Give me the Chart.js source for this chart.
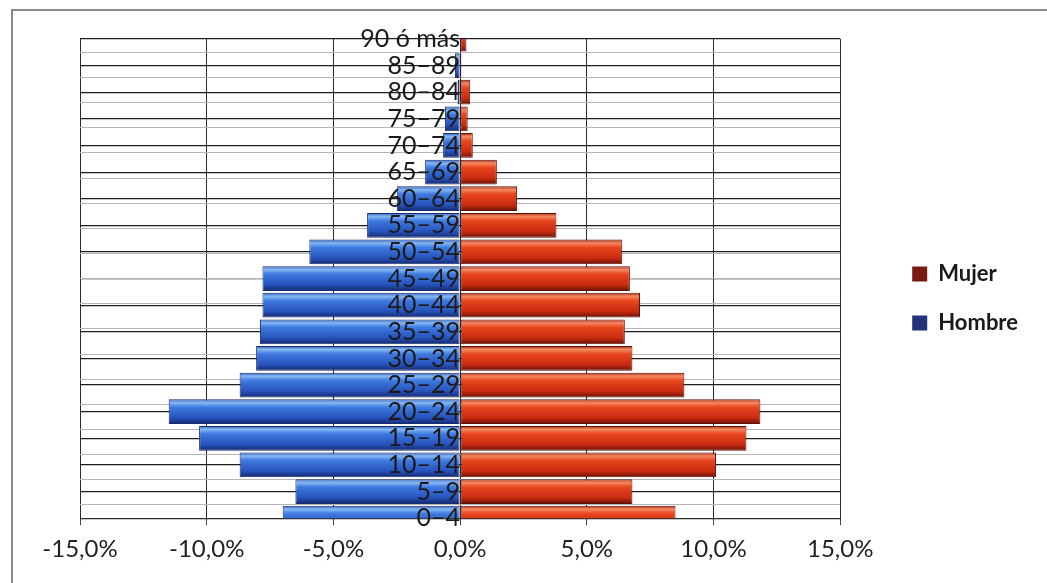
<!DOCTYPE html>
<html>
<head>
<meta charset="utf-8">
<script src="https://cdn.jsdelivr.net/npm/chart.js@4/dist/chart.umd.min.js"></script>
<style>
  html, body { margin: 0; padding: 0; background: #fff; }
  #wrap { width: 1047px; height: 583px; }
</style>
</head>
<body>
<div id="wrap"><canvas id="chart" width="1047" height="583"></canvas></div>
<script>
const ageGroups = ["0–4", "5–9", "10–14", "15–19", "20–24", "25–29", "30–34", "35–39", "40–44",
  "45–49", "50–54", "55–59", "60–64", "65–69", "70–74", "75–79", "80–84", "85–89", "90 ó más"]
const mujer = [8.5, 6.8, 10.1, 11.3, 11.85, 8.85, 6.8, 6.5, 7.1, 6.7, 6.4, 3.8, 2.25, 1.45, 0.5, 0.3, 0.4, 0.05, 0.25]
const hombre = [-7.0, -6.5, -8.7, -10.3, -11.5, -8.7, -8.05, -7.9, -7.8, -7.8, -5.95, -3.67, -2.5, -1.38, -0.67, -0.6, -0.1, -0.2, 0]
const xTicks = [-15, -10, -5, 0, 5, 10, 15]

const fontFamily = "Lato, 'Open Sans', sans-serif"

// cylinder-like shading for each bar
function barGradient(stops, fallback) {
  return function (ctx) {
    const chart = ctx.chart
    if (ctx.type !== "data" || !chart.chartArea) return fallback
    const yc = chart.scales.y.getPixelForValue(ctx.dataIndex)
    const h = 25
    const g = chart.ctx.createLinearGradient(0, yc - h / 2, 0, yc + h / 2)
    stops.forEach((s) => g.addColorStop(s[0], s[1]))
    return g
  }
}

const blueStops = [[0, "#2b56b8"], [0.14, "#86b9f5"], [0.32, "#3f7ade"], [0.75, "#2652bb"], [1, "#14276a"]]
const redStops = [[0, "#a82510"], [0.14, "#f48a64"], [0.32, "#e8461e"], [0.75, "#c82b10"], [1, "#661005"]]

const framePlugin = {
  id: "frame",
  afterLayout(chart) {
    // legend sits a little above the middle in the original
    chart.legend.top -= 8
    chart.legend.bottom -= 8
  },
  beforeDraw(chart) {
    const c = chart.ctx
    c.save()
    c.strokeStyle = "#8a8a8a"
    c.lineWidth = 2
    c.beginPath()
    c.moveTo(12, chart.height)
    c.lineTo(12, 10)
    c.lineTo(chart.width, 10)
    c.stroke()
    c.restore()
  },
}

new Chart(document.getElementById("chart"), {
  type: "bar",
  data: {
    labels: ageGroups,
    datasets: [
      {
        label: "Mujer",
        data: mujer,
        backgroundColor: barGradient(redStops, "#7a1a12"),
        borderColor: "#5c1208",
        borderWidth: 1,
        borderSkipped: false,
        barPercentage: 0.93,
        categoryPercentage: 1,
      },
      {
        label: "Hombre",
        data: hombre,
        backgroundColor: barGradient(blueStops, "#23357a"),
        borderColor: "#1a2c70",
        borderWidth: 1,
        borderSkipped: false,
        barPercentage: 0.93,
        categoryPercentage: 1,
      },
    ],
  },
  options: {
    indexAxis: "y",
    responsive: false,
    animation: false,
    devicePixelRatio: 1,
    layout: { padding: { top: 39, left: 80, right: 19, bottom: 9 } },
    plugins: {
      tooltip: { enabled: false },
      legend: {
        position: "right",
        maxWidth: 250,
        labels: {
          font: { family: fontFamily, size: 22, weight: "bold" },
          color: "#1a1a1a",
          boxWidth: 15,
          boxHeight: 15,
          padding: 27,
          generateLabels(chart) {
            const items = Chart.defaults.plugins.legend.labels.generateLabels(chart)
            const fills = ["#7a1a12", "#23357a"]
            items.forEach((it, i) => {
              it.fillStyle = fills[i]
              it.strokeStyle = fills[i]
              it.lineWidth = 0
            })
            return items
          },
        },
      },
    },
    scales: {
      x: {
        type: "linear",
        min: -15,
        max: 15,
        stacked: true,
        afterBuildTicks(scale) {
          scale.ticks = xTicks.map((v) => ({ value: v }))
        },
        grid: { color: "#2a2a2a", lineWidth: 1, tickLength: 7, tickColor: "#444" },
        border: { display: true, color: "#2a2a2a" },
        ticks: {
          padding: 10,
          color: "#222",
          font: { family: fontFamily, size: 24 },
          callback: (v) => v.toFixed(1).replace(".", ",") + "%",
        },
      },
      y: {
        type: "category",
        stacked: true,
        reverse: true,
        offset: false,
        grid: { offset: false, color: "#1e1e1e", lineWidth: 1.2, drawTicks: false },
        border: { display: false },
        ticks: { display: false },
      },
      yMinor: {
        type: "linear",
        axis: "y",
        position: { x: 0 },
        min: 0,
        max: 18,
        afterBuildTicks(scale) {
          scale.ticks = ageGroups.slice(1).map((_, i) => ({ value: i + 0.5 }))
        },
        grid: { color: "#b5b5b5", lineWidth: 1, drawTicks: false },
        border: { display: false },
        ticks: { display: false },
      },
      yLabels: {
        type: "category",
        axis: "y",
        labels: ageGroups,
        reverse: true,
        offset: false,
        position: { x: 0 },
        grid: { display: false, drawTicks: false, offset: false },
        border: { display: false },
        ticks: {
          z: 1,
          padding: 5,
          color: "#1a1a1a",
          font: { family: fontFamily, size: 25 },
          autoSkip: false,
        },
      },
      yPad: {
        type: "linear",
        axis: "y",
        position: "right",
        grid: { display: false, drawTicks: false },
        border: { display: false },
        ticks: { display: false },
        afterFit(scale) {
          scale.width = 45
        },
      },
    },
  },
  plugins: [framePlugin],
})
</script>
</body>
</html>
